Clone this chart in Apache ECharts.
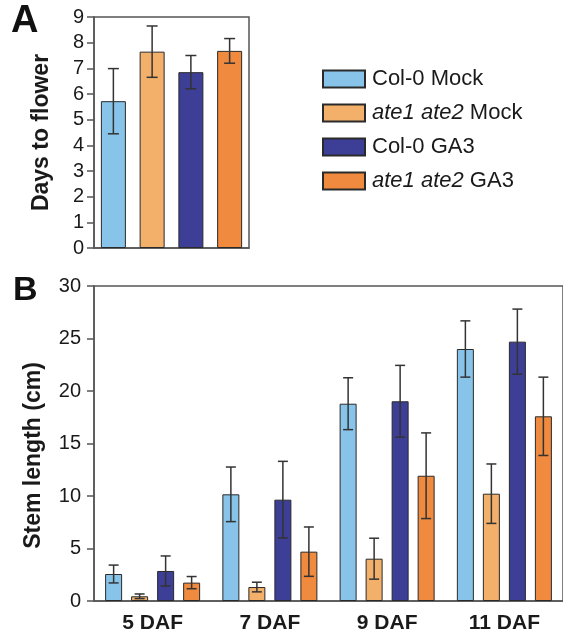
<!DOCTYPE html>
<html>
<head>
<meta charset="utf-8">
<script src="https://cdn.jsdelivr.net/npm/echarts@6/dist/echarts.min.js"></script>
<style>
  html, body { margin: 0; padding: 0; background: #fff; }
  #chart { width: 563px; height: 639px; }
</style>
</head>
<body>
<div id="chart"></div>
<script>
// genotypes / treatments
const groups = ["Col-0 Mock", "ate1 ate2 Mock", "Col-0 GA3", "ate1 ate2 GA3"];
const colors = ["#88c4ea", "#f3b06b", "#3d3f97", "#ef8a3f"];

// panel A: days to flower
const daysMean = [5.72, 7.65, 6.85, 7.68];
const daysErr = [1.27, 1.0, 0.65, 0.48];

// panel B: stem length (cm)
const stages = ["5 DAF", "7 DAF", "9 DAF", "11 DAF"];
const stemMean = [
  [2.57, 10.16, 18.79, 24.0],   // Col-0 Mock
  [0.45, 1.33, 4.03, 10.22],    // ate1 ate2 Mock
  [2.86, 9.65, 19.02, 24.7],    // Col-0 GA3
  [1.75, 4.7, 11.93, 17.59],    // ate1 ate2 GA3
];
const stemErr = [
  [0.85, 2.6, 2.47, 2.68],
  [0.22, 0.46, 1.95, 2.83],
  [1.43, 3.65, 3.42, 3.1],
  [0.58, 2.35, 4.08, 3.73],
];
const daysTicks = [0, 1, 2, 3, 4, 5, 6, 7, 8, 9];
const stemTicks = [0, 5, 10, 15, 20, 25, 30];

const barW = 17, barGapPx = 9;
const axisCol = "#555";
const errCol = "#333";

var chart = echarts.init(document.getElementById("chart"));

function errRender(offsetPx, cap) {
  return function (params, api) {
    const x = api.value(0);
    const lo = api.coord([x, api.value(1)]);
    const hi = api.coord([x, api.value(2)]);
    const cx = lo[0] + offsetPx;
    const st = { stroke: errCol, lineWidth: 1.5 };
    return {
      type: "group",
      children: [
        { type: "line", shape: { x1: cx, y1: lo[1], x2: cx, y2: hi[1] }, style: st },
        { type: "line", shape: { x1: cx - cap / 2, y1: lo[1], x2: cx + cap / 2, y2: lo[1] }, style: st },
        { type: "line", shape: { x1: cx - cap / 2, y1: hi[1], x2: cx + cap / 2, y2: hi[1] }, style: st },
      ],
    };
  };
}

let series = [];
// panel A bars (one per category, overlapped so each sits centred)
groups.forEach((g, i) => {
  series.push({
    name: g,
    type: "bar",
    xAxisIndex: 0,
    yAxisIndex: 0,
    barWidth: 25,
    barGap: "-100%",
    itemStyle: { color: colors[i], borderColor: "#2a2a2a", borderWidth: 1 },
    data: groups.map((_, j) => (j === i ? daysMean[i] : "-")),
  });
});
series.push({
  type: "custom",
  xAxisIndex: 0,
  yAxisIndex: 0,
  z: 5,
  renderItem: errRender(0, 11),
  data: daysMean.map((m, i) => [i, m - daysErr[i], m + daysErr[i]]),
});
// panel B bars
groups.forEach((g, i) => {
  series.push({
    name: g,
    type: "bar",
    xAxisIndex: 1,
    yAxisIndex: 1,
    barWidth: barW,
    barGap: (barGapPx / barW * 100).toFixed(0) + "%",
    itemStyle: { color: colors[i], borderColor: "#2a2a2a", borderWidth: 1 },
    data: stemMean[i],
  });
  series.push({
    type: "custom",
    xAxisIndex: 1,
    yAxisIndex: 1,
    z: 5,
    renderItem: errRender((i - 1.5) * (barW + barGapPx), 10),
    data: stemMean[i].map((m, j) => [j, m - stemErr[i][j], m + stemErr[i][j]]),
  });
});

var option = {
  animation: false,
  textStyle: { fontFamily: "Liberation Sans, Arial, sans-serif", color: "#1a1a1a" },
  legend: {
    data: groups,
    orient: "vertical",
    left: 317,
    top: 63,
    itemWidth: 42,
    itemHeight: 17,
    itemGap: 12,
    icon: "rect",
    selectedMode: false,
    formatter: function (name) {
      if (name.indexOf("ate1 ate2") === 0) {
        return "{i|ate1 ate2}" + name.slice(9);
      }
      return name;
    },
    textStyle: {
      fontSize: 22,
      color: "#1a1a1a",
      padding: [0, 0, 0, 2],
      rich: { i: { fontStyle: "italic", fontSize: 22, color: "#1a1a1a" } },
    },
  },
  graphic: [
    { type: "text", left: 11, top: 3, style: { text: "A", font: "bold 38px Liberation Sans, Arial", fill: "#111" } },
    { type: "text", left: 13, top: 274, style: { text: "B", font: "bold 34px Liberation Sans, Arial", fill: "#111" } },
  ],
  grid: [
    { left: 94, top: 17, width: 155, height: 231, show: true, borderColor: axisCol, borderWidth: 1.5 },
    { left: 94, top: 286, right: 0, height: 315, show: true, borderColor: axisCol, borderWidth: 1.5 },
  ],
  xAxis: [
    {
      type: "category",
      gridIndex: 0,
      data: groups,
      axisLine: { lineStyle: { color: axisCol, width: 1.5 } },
      axisTick: { show: false },
      axisLabel: { show: false },
    },
    {
      type: "category",
      gridIndex: 1,
      data: stages,
      axisLine: { lineStyle: { color: axisCol, width: 1.5 } },
      axisTick: { alignWithLabel: true, length: 6, lineStyle: { color: axisCol, width: 1.5 } },
      axisLabel: { fontSize: 21, fontWeight: "bold", color: "#1a1a1a", margin: 12 },
    },
  ],
  yAxis: [
    {
      type: "value",
      gridIndex: 0,
      min: daysTicks[0],
      max: daysTicks[daysTicks.length - 1],
      interval: 1,
      name: "Days to flower",
      nameLocation: "middle",
      nameGap: 41,
      nameTextStyle: { fontSize: 23, fontWeight: "bold", color: "#1a1a1a" },
      axisLine: { show: true, lineStyle: { color: axisCol, width: 1.5 } },
      axisTick: { show: true, length: 7, lineStyle: { color: axisCol, width: 1.5 } },
      axisLabel: { fontSize: 20, color: "#1a1a1a", margin: 10 },
      splitLine: { show: false },
    },
    {
      type: "value",
      gridIndex: 1,
      min: stemTicks[0],
      max: stemTicks[stemTicks.length - 1],
      interval: 5,
      name: "Stem length (cm)",
      nameLocation: "middle",
      nameGap: 49,
      nameTextStyle: { fontSize: 23, fontWeight: "bold", color: "#1a1a1a", padding: [0, 24, 0, 0] },
      axisLine: { show: true, lineStyle: { color: axisCol, width: 1.5 } },
      axisTick: { show: true, length: 7, lineStyle: { color: axisCol, width: 1.5 } },
      axisLabel: { fontSize: 20, color: "#1a1a1a", margin: 13 },
      splitLine: { show: false },
    },
  ],
  series: series,
};
chart.setOption(option);
</script>
</body>
</html>
